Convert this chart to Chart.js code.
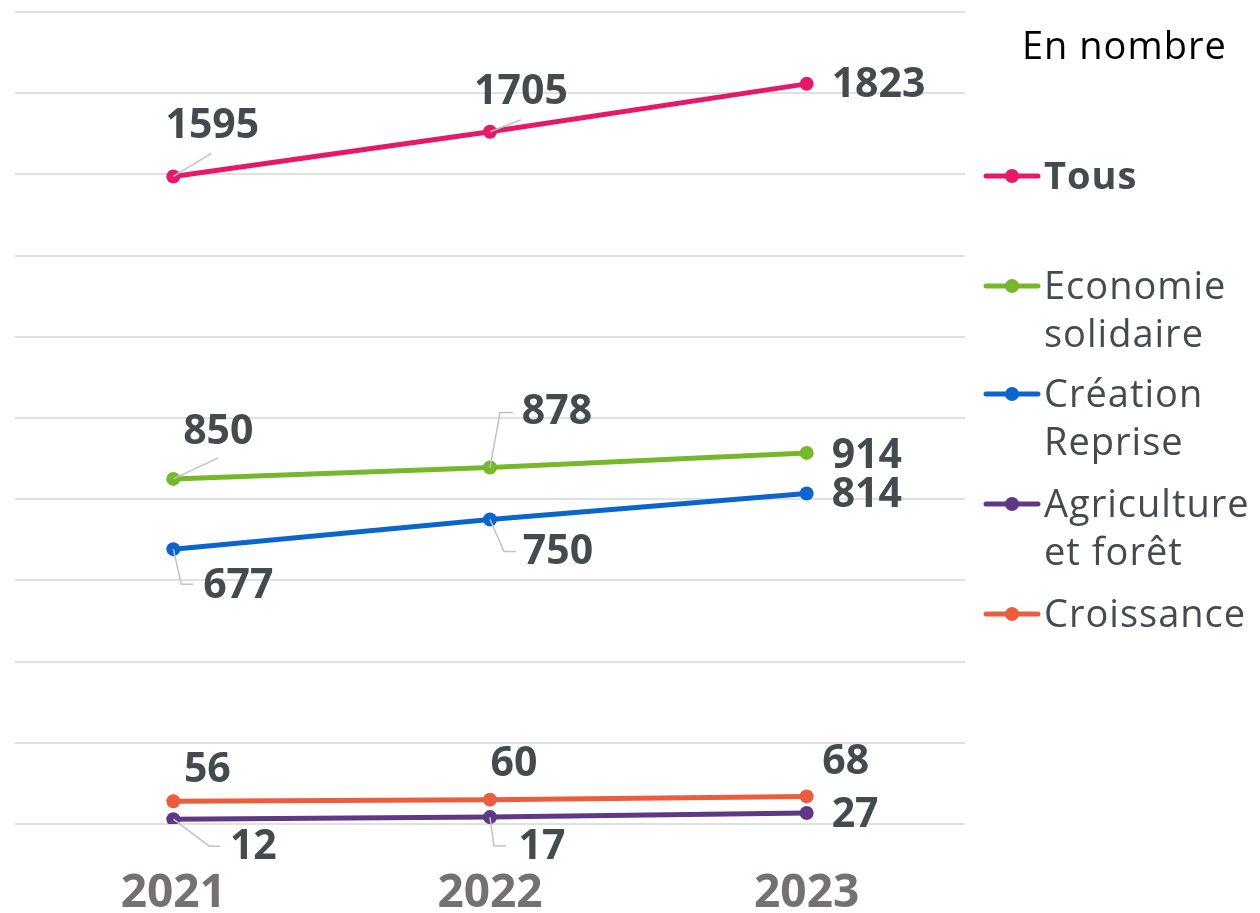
<!DOCTYPE html>
<html>
<head>
<meta charset="utf-8">
<script src="https://cdn.jsdelivr.net/npm/chart.js@4"></script>
<style>
html,body{margin:0;padding:0;background:#fff;}
#wrap{width:1260px;height:913px;position:relative;}
</style>
</head>
<body>
<div id="wrap"><canvas id="c" width="1260" height="913"></canvas></div>
<script>
const years = ['2021', '2022', '2023'];
const seriesNames = ['Tous', 'Economie solidaire', 'Création Reprise', 'Agriculture et forêt', 'Croissance'];
const tous = [1595, 1705, 1823];
const economieSolidaire = [850, 878, 914];
const creationReprise = [677, 750, 814];
const agricultureForet = [12, 17, 27];
const croissance = [56, 60, 68];
const yTicks = [0, 200, 400, 600, 800, 1000, 1200, 1400, 1600, 1800, 2000];
const unitTitle = 'En nombre';

const seriesValues = [tous, economieSolidaire, creationReprise, agricultureForet, croissance];
const colors = ['#E5186A', '#77B82A', '#0A66CC', '#5F3886', '#EB5D3C'];

// label placement (styling): dx,dy of text relative to point, align, leader polyline
const labelStyle = [
  [{dx:39,dy:-50,a:'center',l:[[0,0],[38,-23]]},{dx:31,dy:-39,a:'center',l:[[0,0],[31,-12]]},{dx:25,dy:1,a:'left'}],
  [{dx:45,dy:-47,a:'center',l:[[0,0],[45,-21]]},{dx:67,dy:-55,a:'center',l:[[0,0],[10,-55],[23,-55]]},{dx:25,dy:3,a:'left'}],
  [{dx:65,dy:37,a:'center',l:[[0,0],[8,35],[20,35]]},{dx:68,dy:33,a:'center',l:[[0,0],[14,32],[26,32]]},{dx:25,dy:2,a:'left'}],
  [{dx:80,dy:28,a:'center',l:[[0,0],[36,27],[47,27]]},{dx:52,dy:30,a:'center',l:[[0,0],[4,29],[16,29]]},{dx:25,dy:2,a:'left'}],
  [{dx:34,dy:-31,a:'center'},{dx:24,dy:-35,a:'center'},{dx:39,dy:-34,a:'center'}]
];
const legendY = [[178],[288,336],[396,444],[506,554],[616]];

const labelPlugin = {
  id: 'labels',
  afterDatasetsDraw(chart) {
    const ctx = chart.ctx;
    ctx.save();
    chart.data.datasets.forEach((ds, di) => {
      const meta = chart.getDatasetMeta(di);
      meta.data.forEach((pt, i) => {
        const st = labelStyle[di][i];
        if (st.l) {
          ctx.beginPath();
          ctx.strokeStyle = '#BFC3C4';
          ctx.lineWidth = 1.5;
          st.l.forEach((p, k) => {
            if (k === 0) ctx.moveTo(pt.x + p[0], pt.y + p[1]);
            else ctx.lineTo(pt.x + p[0], pt.y + p[1]);
          });
          ctx.stroke();
        }
      });
    });
    chart.data.datasets.forEach((ds, di) => {
      const meta = chart.getDatasetMeta(di);
      meta.data.forEach((pt, i) => {
        const st = labelStyle[di][i];
        ctx.font = 'bold 41px "Open Sans"';
        ctx.fillStyle = '#434B4E';
        ctx.textAlign = st.a;
        ctx.textBaseline = 'middle';
        ctx.fillText(String(ds.data[i]), pt.x + st.dx, pt.y + st.dy);
      });
    });
    ctx.restore();
  }
};

const legendPlugin = {
  id: 'customLegend',
  afterDraw(chart) {
    const ctx = chart.ctx;
    ctx.save();
    ctx.textBaseline = 'middle';
    ctx.textAlign = 'left';
    ctx.letterSpacing = '1px';
    ctx.font = '38px "Open Sans"';
    ctx.fillStyle = '#000';
    ctx.fillText(unitTitle, 1022, 48);
    seriesNames.forEach((name, i) => {
      const ys = legendY[i];
      const my = ys[0] - 2;
      ctx.strokeStyle = colors[i];
      ctx.lineWidth = 5;
      ctx.lineCap = 'round';
      ctx.beginPath();
      ctx.moveTo(986, my);
      ctx.lineTo(1038, my);
      ctx.stroke();
      ctx.fillStyle = colors[i];
      ctx.beginPath();
      ctx.arc(1012, my, 7, 0, Math.PI * 2);
      ctx.fill();
      const sp = name.indexOf(' ');
      const lines = (ys.length > 1 && sp > 0) ? [name.slice(0, sp), name.slice(sp + 1)] : [name];
      ctx.fillStyle = '#434B4E';
      ctx.font = (i === 0 ? 'bold ' : '') + '38px "Open Sans"';
      lines.forEach((t, k) => ctx.fillText(t, 1044, ys[k]));
    });
    ctx.restore();
  }
};

new Chart(document.getElementById('c'), {
  type: 'line',
  data: {
    labels: years,
    datasets: seriesNames.map((n, i) => ({
      label: n,
      data: seriesValues[i],
      borderColor: colors[i],
      backgroundColor: colors[i],
      borderWidth: 5,
      pointRadius: 7,
      pointHoverRadius: 7,
      pointBackgroundColor: colors[i],
      pointBorderWidth: 0,
      tension: 0,
      fill: false
    }))
  },
  options: {
    responsive: false,
    animation: false,
    events: [],
    layout: { padding: { left: 15, right: 295, top: 12, bottom: 0 } },
    plugins: { legend: { display: false }, tooltip: { enabled: false } },
    scales: {
      x: {
        offset: true,
        grid: { display: false, drawTicks: false },
        border: { display: false },
        ticks: { font: { family: '"Open Sans"', size: 46, weight: 'bold' }, color: '#767171', padding: 42 },
        afterFit(s) { s.height = 89; }
      },
      y: {
        min: 0, max: 2000,
        afterBuildTicks(s) { s.ticks = yTicks.map(v => ({ value: v })); },
        ticks: { display: false },
        grid: { color: '#DDE1E2', lineWidth: 2, drawTicks: false },
        border: { display: false },
        afterFit(s) { s.width = 0; }
      }
    }
  },
  plugins: [labelPlugin, legendPlugin]
});
</script>
</body>
</html>
